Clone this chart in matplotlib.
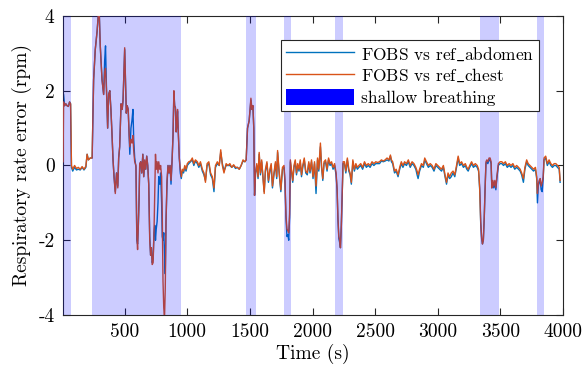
import numpy as np
import matplotlib
matplotlib.use("Agg")
import matplotlib.pyplot as plt
from matplotlib.patches import Patch

plt.rcParams['font.family'] = ['cmr10', 'DejaVu Serif']
plt.rcParams['mathtext.fontset'] = 'cm'
plt.rcParams['axes.unicode_minus'] = False

# time stamps (s)
t = [8, 12, 20, 30, 40, 50, 60, 68, 75, 85,
     100, 115, 130, 145, 160, 175, 190, 200, 210, 225,
     240, 252, 265, 280, 295, 305, 319, 332, 340, 347,
     355, 364, 372, 381, 390, 398, 407, 415, 425, 435,
     445, 452, 460, 471, 480, 487, 494, 500, 507, 513,
     520, 528, 536, 541, 550, 558, 566, 572, 580, 590,
     597, 603, 609, 615, 620, 628, 636, 645, 652, 660,
     668, 676, 684, 692, 700, 707, 713, 720, 727, 734,
     740, 746, 752, 759, 766, 772, 780, 787, 795, 800,
     806, 812, 818, 824, 830, 838, 846, 854, 862, 870,
     878, 886, 893, 899, 905, 911, 917, 922, 929, 936,
     944, 952, 960, 970, 980, 990, 1000, 1012, 1026, 1040,
     1052, 1065, 1080, 1092, 1105, 1120, 1133, 1145, 1158, 1172,
     1186, 1200, 1213, 1225, 1240, 1255, 1267, 1280, 1293, 1310,
     1325, 1340, 1355, 1370, 1385, 1400, 1415, 1430, 1445, 1460,
     1470, 1481, 1494, 1502, 1508, 1516, 1524, 1531, 1537, 1545,
     1555, 1565, 1574, 1584, 1594, 1604, 1614, 1624, 1636, 1648,
     1660, 1670, 1680, 1692, 1704, 1714, 1721, 1732, 1747, 1760,
     1772, 1780, 1788, 1796, 1803, 1810, 1817, 1823, 1832, 1842,
     1852, 1862, 1872, 1882, 1892, 1902, 1912, 1922, 1934, 1946,
     1958, 1970, 1980, 1992, 2004, 2016, 2028, 2040, 2050, 2063,
     2072, 2082, 2092, 2104, 2116, 2128, 2140, 2152, 2164, 2176,
     2188, 2196, 2203, 2210, 2216, 2223, 2230, 2237, 2244, 2255,
     2266, 2278, 2290, 2300, 2310, 2322, 2334, 2346, 2358, 2370,
     2385, 2400, 2415, 2430, 2445, 2460, 2475, 2490, 2505, 2520,
     2535, 2550, 2565, 2580, 2595, 2610, 2622, 2630, 2640, 2655,
     2668, 2683, 2696, 2709, 2722, 2735, 2750, 2765, 2780, 2795,
     2810, 2825, 2835, 2843, 2855, 2870, 2885, 2896, 2910, 2925,
     2940, 2955, 2970, 2985, 3000, 3015, 3030, 3045, 3058, 3070,
     3082, 3095, 3108, 3122, 3136, 3150, 3163, 3175, 3190, 3205,
     3220, 3232, 3243, 3255, 3270, 3285, 3300, 3315, 3326, 3335,
     3343, 3350, 3357, 3364, 3371, 3378, 3385, 3392, 3400, 3410,
     3418, 3426, 3432, 3440, 3448, 3456, 3464, 3472, 3484, 3498,
     3512, 3525, 3540, 3555, 3570, 3585, 3600, 3615, 3630, 3645,
     3658, 3670, 3684, 3696, 3710, 3722, 3737, 3751, 3765, 3780,
     3790, 3796, 3803, 3810, 3818, 3826, 3834, 3842, 3849, 3862,
     3875, 3889, 3903, 3916, 3930, 3943, 3957, 3970, 3977]

# FOBS vs ref_chest error (rpm)
chest = [0.1, 1.7, 1.6, 1.65, 1.6, 1.58, 1.7, 1.65, 0.0, -0.1,
         0.0, -0.08, -0.05, -0.1, -0.03, -0.1, -0.02, 0.3, 0.15, 0.2,
         0.2, 2.3, 3.1, 3.6, 4.3, 3.2, 2.3, 1.9, 2.5, 2.6,
         2.0, 1.0, 1.9, 2.0, 1.5, 0.9, 0.15, -0.3, -0.75, -0.2,
         -0.6, 0.2, 0.5, 1.65, 1.5, 1.75, 2.5, 3.15, 2.2, 1.4,
         1.6, 1.5, 0.8, 0.5, 0.7, 0.6, 0.8, 0.4, 0.1, 0.0,
         -1.9, -2.25, -1.6, -0.9, 0.05, 0.1, -0.2, 0.3, -0.3, 0.15,
         -0.1, 0.25, 0.0, -0.5, -2.0, -2.4, -2.2, -2.65, -2.6, -1.8,
         -0.8, 0.3, -0.1, 0.1, -0.2, 0.1, -0.1, 0.0, -0.3, -1.3,
         -3.1, -3.8, -4.1, -3.3, -1.5, -0.4, 0.0, -0.2, 0.0, -0.4,
         0.1, 0.8, 2.0, 1.6, 1.55, 0.9, 1.1, 1.5, 0.8, 0.2,
         -0.1, -0.3, -0.1, -0.15, 0.0, -0.1, 0.05, 0.1, 0.12, 0.2,
         0.05, 0.15, 0.1, 0.0, 0.1, -0.1, -0.2, -0.45, 0.05, 0.1,
         -0.2, -0.3, -0.6, 0.0, 0.1, 0.0, 0.42, 0.0, -0.2, 0.05,
         0.0, 0.05, -0.05, 0.02, -0.05, -0.05, -0.1, 0.0, 0.15, 0.1,
         0.15, 1.0, 1.2, 1.55, 1.8, 1.5, 1.6, 1.0, -0.8, -0.2,
         0.05, -0.3, 0.35, -0.2, 0.15, -0.3, -0.75, -0.1, 0.1, -0.4,
         -0.1, 0.05, -0.55, -0.2, 0.1, -0.3, 0.4, -0.1, -0.65, -0.05,
         0.0, -0.4, -1.35, -1.7, -1.75, -1.8, -1.3, 0.15, -0.1, -0.4,
         0.0, 0.15, -0.2, 0.05, -0.1, 0.15, -0.25, 0.0, 0.2, -0.15,
         -0.2, 0.1, -0.15, 0.15, -0.3, 0.1, -0.55, 0.2, -0.1, 0.6,
         0.0, -0.35, 0.1, 0.15, -0.1, 0.2, 0.05, 0.1, -0.05, 0.05,
         -0.2, -0.6, -1.4, -1.9, -2.0, -2.2, -1.6, -0.8, 0.1, 0.1,
         -0.15, 0.2, -0.1, -0.2, -0.45, 0.15, -0.1, 0.05, -0.05, 0.0,
         0.05, -0.05, 0.1, 0.0, 0.05, 0.0, 0.1, 0.05, 0.1, 0.08,
         0.1, 0.15, 0.12, 0.15, 0.2, 0.15, 0.28, 0.15, 0.1, -0.15,
         -0.1, -0.25, -0.05, 0.1, 0.0, 0.1, 0.05, 0.15, 0.0, 0.1,
         0.05, -0.05, -0.15, -0.25, -0.1, 0.05, 0.0, 0.2, 0.1, 0.0,
         0.05, 0.0, -0.1, 0.05, 0.0, -0.05, -0.1, 0.0, -0.25, -0.45,
         -0.2, -0.3, -0.2, -0.15, -0.25, 0.0, 0.25, 0.05, 0.1, 0.0,
         0.05, -0.05, -0.1, 0.0, 0.1, 0.0, 0.05, 0.0, -0.1, -0.6,
         -1.5, -1.9, -2.1, -2.0, -1.4, -0.6, 0.1, 0.15, 0.1, 0.2,
         0.2, 0.1, -0.6, -0.4, -0.55, -0.4, -0.6, -0.3, 0.05, 0.1,
         0.1, 0.05, 0.1, 0.0, 0.05, 0.0, 0.05, -0.05, 0.0, -0.05,
         -0.1, -0.2, -0.35, -0.05, 0.15, 0.05, 0.0, -0.05, -0.1, -0.05,
         -0.3, -0.75, -0.5, -0.4, -0.35, -0.55, -0.45, -0.3, 0.2, 0.25,
         0.05, 0.15, 0.05, 0.0, 0.05, 0.05, 0.0, -0.05, -0.4]

# FOBS vs ref_abdomen error (rpm)
abdomen = [1.95, 1.9, 1.6, 1.65, 1.6, 1.58, 1.7, 1.65, -0.05, -0.15,
           -0.05, -0.12, -0.1, -0.12, -0.05, -0.12, -0.05, 0.3, 0.15, 0.2,
           0.2, 2.3, 3.1, 3.6, 4.3, 3.2, 2.3, 1.9, 2.8, 3.2,
           2.0, 1.0, 1.9, 2.0, 1.5, 0.9, 0.15, -0.3, -0.7, -0.2,
           -0.55, 0.2, 0.5, 1.65, 1.5, 1.75, 2.5, 3.1, 2.2, 1.4,
           1.6, 1.5, 0.8, 0.3, 1.0, 1.2, 1.5, 0.7, 0.2, -0.05,
           -2.0, -2.1, -1.6, -0.9, 0.0, 0.1, -0.2, 0.3, -0.3, 0.1,
           -0.1, 0.25, 0.0, -0.5, -1.9, -2.4, -2.2, -2.6, -2.5, -1.8,
           -1.6, -2.0, -1.7, -1.5, -1.0, -0.3, -0.5, -0.2, -1.0, -1.9,
           -2.0, -1.8, -2.3, -2.9, -1.5, -0.5, 0.0, -0.2, 0.0, -0.5,
           0.1, 0.8, 1.95, 1.6, 1.55, 0.9, 1.1, 1.45, 0.8, 0.2,
           -0.2, -0.35, -0.15, -0.2, -0.05, -0.15, 0.0, 0.05, 0.1, 0.15,
           0.0, 0.12, 0.05, -0.05, 0.05, -0.15, -0.25, -0.4, 0.0, 0.05,
           -0.25, -0.35, -0.7, -0.05, 0.05, 0.0, 0.35, 0.05, -0.15, 0.0,
           0.0, 0.0, -0.05, 0.0, -0.08, -0.05, -0.1, 0.0, 0.12, 0.1,
           0.15, 1.0, 1.2, 1.5, 1.75, 1.5, 1.6, 1.0, -0.8, -0.2,
           0.0, -0.35, 0.3, -0.25, 0.1, -0.3, -0.7, -0.15, 0.05, -0.45,
           -0.15, 0.0, -0.6, -0.25, 0.05, -0.35, 0.35, -0.15, -0.7, -0.1,
           -0.05, -0.45, -1.4, -1.9, -1.85, -2.0, -1.4, 0.1, -0.15, -0.45,
           -0.05, 0.1, -0.25, 0.0, -0.15, 0.1, -0.3, -0.05, 0.15, -0.2,
           -0.25, 0.05, -0.2, 0.1, -0.35, 0.05, -0.75, 0.15, -0.15, 0.5,
           -0.05, -0.4, 0.05, 0.1, -0.15, 0.15, 0.0, 0.05, -0.1, 0.0,
           -0.25, -0.65, -1.45, -1.95, -2.05, -2.2, -1.6, -0.8, 0.05, 0.05,
           -0.2, 0.15, -0.15, -0.25, -0.5, 0.1, -0.15, 0.0, -0.1, -0.05,
           0.0, -0.1, 0.05, -0.05, 0.0, -0.05, 0.05, 0.0, 0.05, 0.05,
           0.05, 0.12, 0.1, 0.12, 0.15, 0.12, 0.25, 0.1, 0.05, -0.2,
           -0.15, -0.3, -0.1, 0.05, -0.05, 0.05, 0.0, 0.1, -0.05, 0.05,
           0.0, -0.1, -0.25, -0.35, -0.15, 0.0, -0.05, 0.15, 0.05, -0.05,
           0.0, -0.05, -0.15, 0.0, -0.05, -0.1, -0.15, -0.05, -0.3, -0.5,
           -0.25, -0.35, -0.3, -0.2, -0.3, -0.05, 0.2, 0.0, 0.05, -0.05,
           0.0, -0.1, -0.15, -0.05, 0.05, -0.05, 0.0, -0.05, -0.15, -0.65,
           -1.55, -1.95, -2.1, -2.0, -1.45, -0.6, 0.05, 0.1, 0.05, 0.15,
           0.15, 0.05, -0.6, -0.45, -0.6, -0.45, -0.65, -0.35, 0.0, 0.05,
           0.05, 0.0, 0.05, -0.05, 0.0, -0.05, 0.0, -0.1, -0.05, -0.1,
           -0.15, -0.25, -0.45, -0.1, 0.1, 0.0, -0.05, -0.1, -0.15, -0.1,
           -0.35, -1.0, -0.55, -0.45, -0.4, -0.65, -0.7, -0.35, 0.15, 0.2,
           0.0, 0.1, 0.0, -0.05, 0.0, 0.0, -0.05, -0.1, -0.45]

# shallow breathing intervals (s)
shallow_start = [0, 241, 1467, 1774, 2183, 3334, 3793]
shallow_end = [73, 952, 1547, 1828, 2244, 3489, 3847]

xticks = [500, 1000, 1500, 2000, 2500, 3000, 3500, 4000]
yticks = [-4, -2, 0, 2, 4]

fig = plt.figure(figsize=(5.84, 3.77), dpi=100)
ax = fig.add_axes([0.108, 0.1645, 0.856, 0.7931])

blue = (0.0, 0.447, 0.741)
orange = (0.85, 0.325, 0.098)
ax.plot(t, abdomen, color=blue, lw=1.0, zorder=2)
ax.plot(t, chest, color=orange, lw=1.0, zorder=3)
for s, e in zip(shallow_start, shallow_end):
    ax.axvspan(s, e, color=(0, 0, 1), alpha=0.2, lw=0, zorder=4)

ax.set_xlim(t[0], 4000)
ax.set_ylim(-4, 4)
ax.set_xticks(xticks)
ax.set_xticklabels([str(v) for v in xticks])
ax.set_yticks(yticks)
ax.set_yticklabels([str(v) for v in yticks])
ax.tick_params(direction='in', top=True, right=True, length=5, width=0.8,
               labelsize=14, color='0.15', pad=6)
for sp in ax.spines.values():
    sp.set_color('0.15')
    sp.set_linewidth(0.8)

ax.set_xlabel('Time (s)', fontsize=14, labelpad=2)
ax.set_ylabel('Respiratory rate error (rpm)', fontsize=14, labelpad=5)

handles = [plt.Line2D([], [], color=blue, lw=1.0),
           plt.Line2D([], [], color=orange, lw=1.0),
           Patch(facecolor=(0, 0, 1), edgecolor='none')]
labels = [r'FOBS vs ref$\_$abdomen', r'FOBS vs ref$\_$chest', 'shallow breathing']
leg = ax.legend(handles, labels, loc='upper right', bbox_to_anchor=(0.953, 0.92),
                fontsize=12.5, frameon=True, fancybox=False, framealpha=1,
                edgecolor='0.15', handlelength=3.9, handleheight=1.1,
                borderpad=0.3, labelspacing=0.25, handletextpad=0.4,
                borderaxespad=0)
leg.get_frame().set_linewidth(0.8)
leg.set_zorder(10)

fig.savefig('out.png', dpi=100)
